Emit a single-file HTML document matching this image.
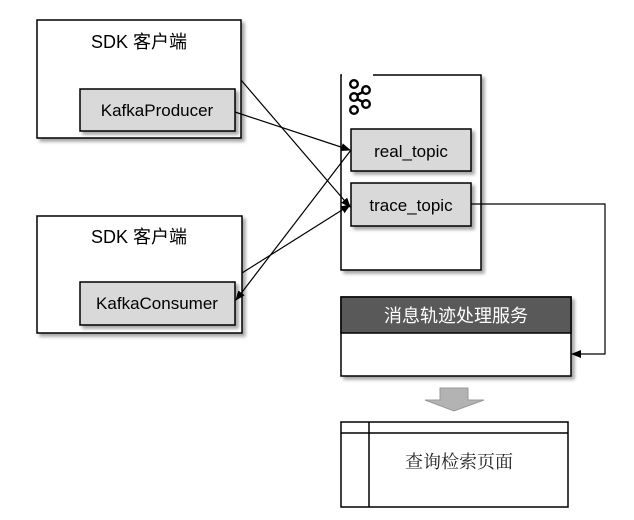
<!DOCTYPE html>
<html><head><meta charset="utf-8"><style>
body{margin:0;background:#fff;width:634px;height:515px;overflow:hidden}
svg text{font-family:"Liberation Sans","Noto Sans CJK SC",sans-serif}
</style></head><body>
<svg width="634" height="515" viewBox="0 0 634 515" xmlns="http://www.w3.org/2000/svg">
<defs>
<filter id="sh" x="-10%" y="-10%" width="130%" height="130%"><feDropShadow dx="3" dy="3" stdDeviation="1.5" flood-color="#000" flood-opacity="0.35"/></filter>
<marker id="ar" markerWidth="10" markerHeight="8" refX="9" refY="4" orient="auto" markerUnits="userSpaceOnUse"><path d="M0,0 L10,4 L0,8 z" fill="#000"/></marker>
</defs>
<g stroke="#000" stroke-width="1.5">
<rect x="37" y="20" width="204" height="118" fill="#fff" filter="url(#sh)"/>
<rect x="80" y="89" width="155" height="42" fill="#d9d9d9" filter="url(#sh)"/>
<rect x="37" y="216" width="205" height="117" fill="#fff" filter="url(#sh)"/>
<rect x="80" y="282" width="155" height="43" fill="#d9d9d9" filter="url(#sh)"/>
<rect x="341" y="75" width="140" height="195" fill="#fff" filter="url(#sh)"/>
<rect x="351" y="129" width="120" height="42" fill="#d9d9d9" filter="url(#sh)"/>
<rect x="351" y="183" width="120" height="43" fill="#d9d9d9" filter="url(#sh)"/>
<rect x="341" y="297" width="230" height="79" fill="#fff" filter="url(#sh)"/>
<rect x="341" y="297" width="230" height="36" fill="#595959"/>
<rect x="341" y="422" width="227" height="85" fill="#fff"/>
<line x1="341" y1="433" x2="568" y2="433"/>
<line x1="369" y1="422" x2="369" y2="507"/>
</g>
<line x1="342" y1="75" x2="373" y2="75" stroke="#fff" stroke-width="2"/>
<g fill="none" stroke="#000" stroke-width="2.4">
<circle cx="354" cy="84" r="3.8"/><circle cx="354" cy="97" r="3.8"/><circle cx="354" cy="110" r="3.8"/>
<circle cx="366" cy="90" r="3.8"/><circle cx="366" cy="104" r="3.8"/>
<line x1="357" y1="95" x2="363" y2="92"/><line x1="357" y1="99" x2="363" y2="102"/>
</g>
<g stroke="#000" stroke-width="1.2" fill="none" marker-end="url(#ar)">
<line x1="241" y1="80" x2="350" y2="207"/>
<line x1="235" y1="112" x2="350" y2="150"/>
<line x1="351" y1="150" x2="236" y2="300"/>
<line x1="242" y1="273" x2="350" y2="205"/>
<polyline points="471,204 605,204 605,354 572,354"/>
</g>
<polygon points="440,388 468,388 468,400 484,400 454,411 425,400 440,400" fill="#b3b3b3" stroke="#999"/>
<g font-size="17" fill="#000">
<text x="139" y="48" text-anchor="middle" font-size="18">SDK 客户端</text>
<text x="139" y="243" text-anchor="middle" font-size="18">SDK 客户端</text>
<text x="157" y="116" text-anchor="middle">KafkaProducer</text>
<text x="157" y="309" text-anchor="middle">KafkaConsumer</text>
<text x="411" y="157" text-anchor="middle">real_topic</text>
<text x="411" y="211" text-anchor="middle">trace_topic</text>
<text x="456" y="322" text-anchor="middle" fill="#fff" font-size="18">消息轨迹处理服务</text>
<text x="459" y="468" text-anchor="middle" style="font-family:'Noto Serif CJK SC',serif" fill="#222" font-size="18">查询检索页面</text>
</g>
</svg>
</body></html>
